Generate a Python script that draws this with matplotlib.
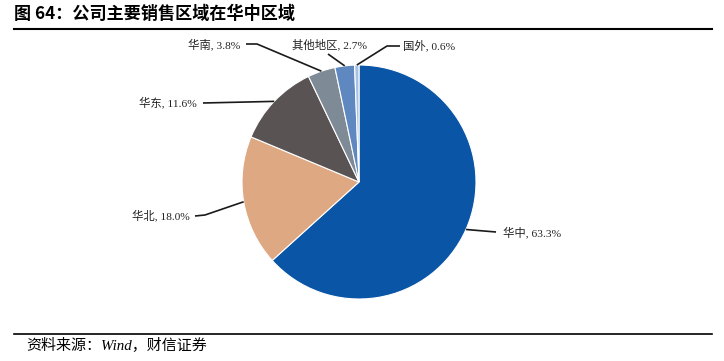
import matplotlib
matplotlib.use("Agg")
import matplotlib.pyplot as plt
import numpy as np

plt.rcParams['font.family'] = ['Liberation Serif', 'Noto Sans CJK SC', 'DejaVu Sans']

# ---- data ----
regions = ['华中', '华北', '华东', '华南', '其他地区', '国外']
shares = [63.3, 18.0, 11.6, 3.8, 2.7, 0.6]
colors = ['#0a55a6', '#dda882', '#5a5353', '#7f8a97', '#5f88c0', '#a9c2e2']
title = '图 64：公司主要销售区域在华中区域'
source = '资料来源：Wind，财信证券'

W, H = 724, 361
fig = plt.figure(figsize=(W / 100, H / 100), dpi=100)
ax = fig.add_axes([0, 0, 1, 1])

cx, cy, R = 359, H - 182, 117
wedges, _ = ax.pie(shares, colors=colors, startangle=90, counterclock=False,
                   center=(cx, cy), radius=R, frame=True,
                   wedgeprops=dict(edgecolor='white', linewidth=0.8))
ax.set_xlim(0, W)
ax.set_ylim(0, H)
ax.set_aspect('equal')
ax.axis('off')

# label layout: (text x, text y (px from top), ha, list of knee points (px from top))
layout = {
    '华中': (503, 232, 'left', [(472, 230), (496, 232)]),
    '华北': (190, 215, 'right', [(205, 215), (195, 216)]),
    '华东': (197, 102, 'right', [(203, 103)]),
    '华南': (240, 44, 'right', [(257, 44), (246, 44)]),
    '其他地区': (329, 44, 'center', [(328, 54)]),
    '国外': (403, 45, 'left', [(387, 46), (400, 46)]),
}

for w, name, val in zip(wedges, regions, shares):
    mid = np.deg2rad((w.theta1 + w.theta2) / 2)
    px = cx + R * np.cos(mid)
    py = cy + R * np.sin(mid)
    tx, ty, ha, knees = layout[name]
    xs = [px] + [k[0] for k in knees]
    ys = [py] + [H - k[1] for k in knees]
    ax.plot(xs, ys, color='#1a1a1a', lw=1.2, solid_capstyle='butt')
    ax.text(tx, H - ty, f'{name}, {val:.1f}%', ha=ha, va='center',
            fontsize=8.2, color='#222222')

fig.text(14 / W, 1 - 14 / H, title, fontsize=12.3, fontweight='bold',
         family=['Noto Sans CJK SC', 'DejaVu Sans'], ha='left', va='center')
fig.add_artist(plt.Line2D([14 / W, 712 / W], [1 - 29 / H, 1 - 29 / H],
                          color='black', lw=1.5))
fig.add_artist(plt.Line2D([14 / W, 712 / W], [1 - 334 / H, 1 - 334 / H],
                          color='black', lw=1.2))
fig.text(26 / W, 1 - 346 / H, source, fontsize=10.8, style='italic',
         family=['Liberation Serif', 'Noto Sans CJK SC'], ha='left', va='center')

fig.savefig('out.png', dpi=100)
